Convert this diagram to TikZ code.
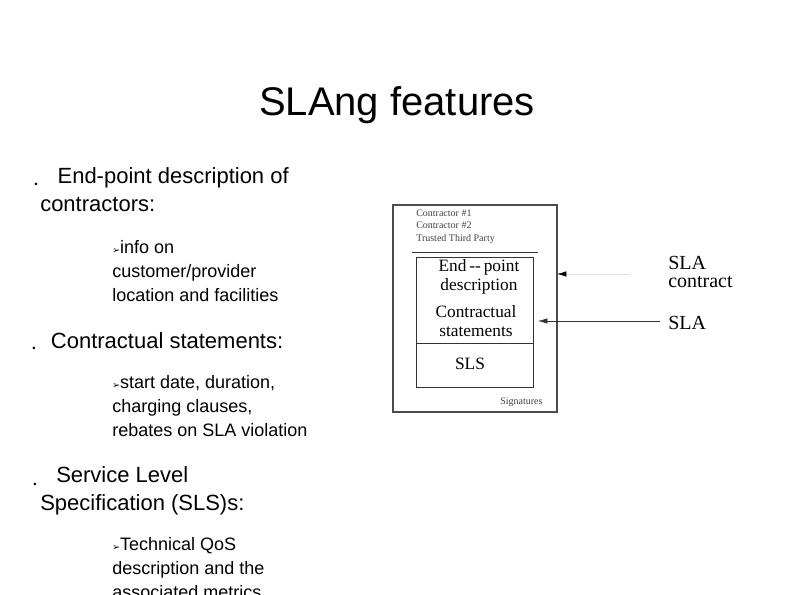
\documentclass[tikz,border=0pt]{standalone}
\usetikzlibrary{arrows.meta}
\usepackage{fontspec}
\setmainfont{Liberation Sans}
\newfontfamily\serf{Liberation Serif}
\newfontfamily\dju{DejaVu Sans}
\begin{document}
\begin{tikzpicture}[x=0.75pt,y=-0.75pt,
  tt/.style={anchor=north west,inner sep=0,font=\fontsize{16.5}{21}\selectfont,align=left},
  st/.style={anchor=north west,inner sep=0,font=\fontsize{13.5}{18}\selectfont,align=left},
  bu/.style={anchor=base west,inner sep=0,font=\fontsize{7}{8}\selectfont},
  dt/.style={inner sep=0,font=\serf\fontsize{13}{14}\selectfont,align=center},
  sm/.style={anchor=base west,inner sep=0,font=\serf\fontsize{7.5}{9}\selectfont,text=black!75}]
\useasboundingbox (0,0) rectangle (794,595);
\node[anchor=base,inner sep=0,font=\fontsize{30}{34}\selectfont] (title) at (397,116) {SLAng features};
\node[tt] (b1) at (40,167) {\hspace*{13pt}End-point description of\\contractors:};
\node[bu] (d1) at (34,188) {\textbullet};
\node[st] (s1) at (112,240) {{\dju\fontsize{7}{8}\selectfont\char"27A2}info on\\customer/provider\\location and facilities};
\node[tt] (b2) at (48,332) {\hspace*{2pt}Contractual statements:};
\node[bu] (d2) at (32,352) {\textbullet};
\node[st] (s2) at (112,375) {{\dju\fontsize{7}{8}\selectfont\char"27A2}start date, duration,\\charging clauses,\\rebates on SLA violation};
\node[tt] (b3) at (40,466) {\hspace*{12pt}Service Level\\Specification (SLS)s:};
\node[bu] (d3) at (33,488) {\textbullet};
\node[st] (s3) at (112,537) {{\dju\fontsize{7}{8}\selectfont\char"27A2}Technical QoS\\description and the\\associated metrics};
% diagram
\draw[black!70,line width=0.8pt] (393,205) rectangle (557,412);
\node[sm] (c1) at (416,217) {Contractor \#1};
\node[sm] (c2) at (416,229) {Contractor \#2};
\node[sm] (c3) at (416,242) {Trusted Third Party};
\draw[black!80] (412,252) -- (538,252);
\draw[black!80] (416,257) rectangle (533,387);
\draw[black!80] (416,343) -- (533,343);
\node[dt] (ep) at (479,277) {End\,--\,point\\description};
\node[dt] (cs) at (476,321) {Contractual\\statements};
\node[dt] (sls) at (470,364) {SLS};
\node[sm] (sig) at (500,405) {Signatures};
\coordinate (a1) at (630,274);
\coordinate (t1) at (557,274);
\coordinate (a2) at (660,321);
\coordinate (t2) at (538,321);
\draw[black!12,-{Latex[length=7pt,width=4pt,black]}] (a1) -- (t1);
\draw[black!80,-{Latex[length=7pt,width=4pt]}] (a2) -- (t2);
\node[dt,font=\serf\fontsize{15}{14}\selectfont,align=left,anchor=west] (lab1) at (668,272) {SLA\\contract};
\node[dt,font=\serf\fontsize{15}{14}\selectfont,anchor=west] (lab2) at (668,323) {SLA};
\end{tikzpicture}
\end{document}
